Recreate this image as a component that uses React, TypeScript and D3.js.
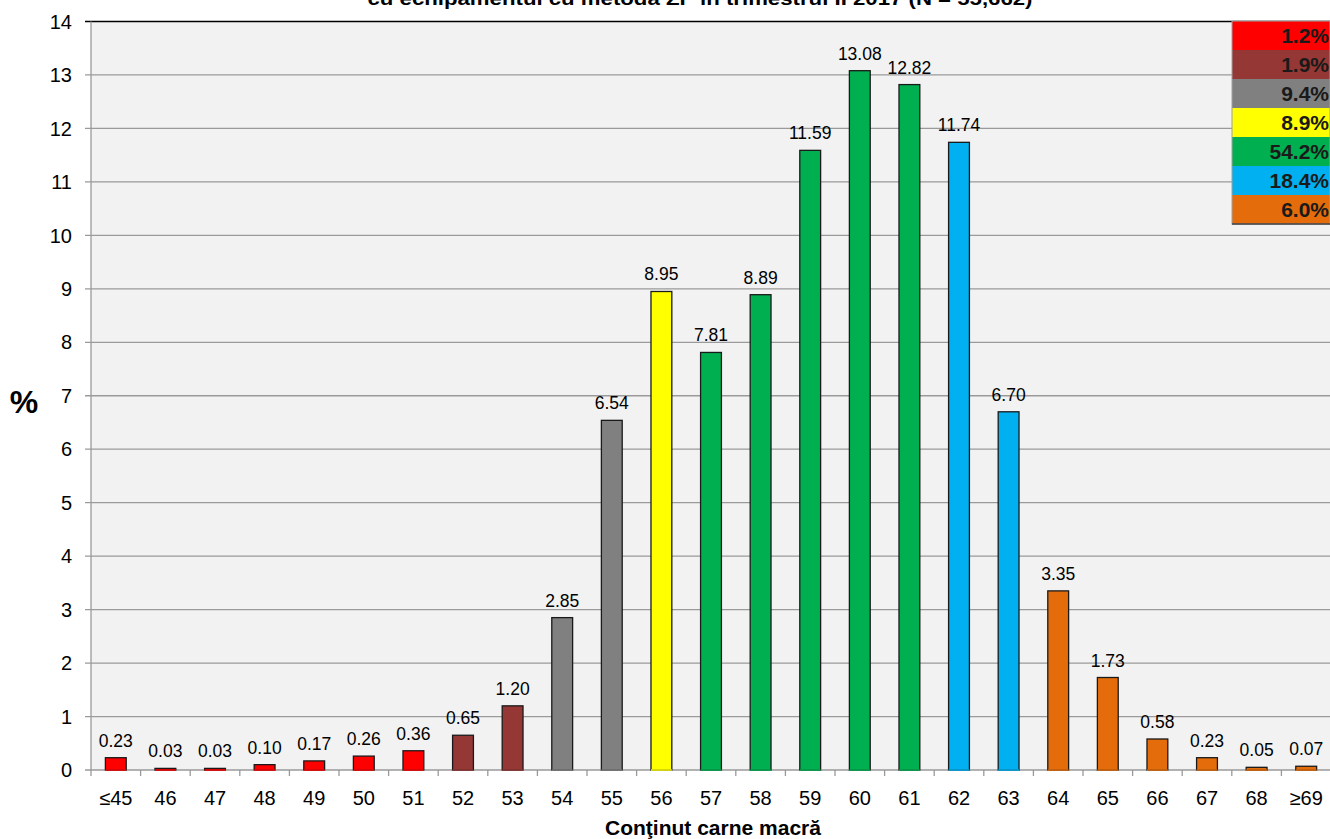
import React from 'react';
import * as d3 from 'd3';

// categorii (continut carne macra) si procente
const categories = ['≤45', '46', '47', '48', '49', '50', '51', '52', '53', '54', '55', '56', '57', '58', '59', '60', '61', '62', '63', '64', '65', '66', '67', '68', '≥69'];
const values = [0.23, 0.03, 0.03, 0.10, 0.17, 0.26, 0.36, 0.65, 1.20, 2.85, 6.54, 8.95, 7.81, 8.89, 11.59, 13.08, 12.82, 11.74, 6.70, 3.35, 1.73, 0.58, 0.23, 0.05, 0.07];
// clasa fiecarei categorii (index in legend)
const classOf = [0, 0, 0, 0, 0, 0, 0, 1, 1, 2, 2, 3, 4, 4, 4, 4, 4, 5, 5, 6, 6, 6, 6, 6, 6];
const legendLabels = ['1.2%', '1.9%', '9.4%', '8.9%', '54.2%', '18.4%', '6.0%'];
const classColors = ['#ff0000', '#953735', '#808080', '#ffff00', '#00b050', '#00b0f0', '#e46c0a'];
const yTicks = d3.range(0, 15);

const W = 1330;
const H = 839;
const FONT = 'Arial, "Liberation Sans", sans-serif';

export default function App() {
  const margin = { top: 21.5, left: 91, bottom: 770, right: 1331 };

  const x = d3
    .scaleBand<string>()
    .domain(categories)
    .range([margin.left, margin.right])
    .paddingInner(0.58)
    .paddingOuter(0.29);

  const y = d3.scaleLinear().domain([0, 14]).range([margin.bottom, margin.top]);

  const step = (margin.right - margin.left) / categories.length;
  const legendX = 1232;
  const legendTop = 21;
  const rowH = 29;

  return (
    <svg
      width={W}
      height={H}
      style={{ position: 'absolute', left: 0, top: 0, background: '#fff' }}
      fontFamily={FONT}
    >
      {/* titlu (taiat sus, ca in original) */}
      <text
        x={700}
        y={5}
        textAnchor="middle"
        fontSize={19}
        fontWeight="bold"
        fill="#000"
        textLength={665}
        lengthAdjust="spacingAndGlyphs"
      >
        cu echipamentul cu metoda ZP în trimestrul II 2017 (N = 55,662)
      </text>

      {/* zona grafic */}
      <rect
        x={margin.left}
        y={margin.top}
        width={margin.right - margin.left}
        height={margin.bottom - margin.top}
        fill="#f2f2f2"
      />

      {/* grid + axa y */}
      {yTicks.map(t => (
        <g key={t}>
          <line
            x1={margin.left - 6}
            x2={margin.right}
            y1={y(t)}
            y2={y(t)}
            stroke={t === 14 ? '#000' : '#9a9a9a'}
            strokeWidth={t === 14 ? 1.5 : 1.3}
          />
          <text
            x={72}
            y={y(t)}
            dy="0.36em"
            textAnchor="end"
            fontSize={20}
            fill="#000"
          >
            {t}
          </text>
        </g>
      ))}
      <line x1={margin.left} x2={margin.left} y1={margin.top} y2={margin.bottom} stroke="#9a9a9a" strokeWidth={1.3} />

      {/* tick-uri axa x */}
      {d3.range(categories.length + 1).map(i => (
        <line
          key={i}
          x1={margin.left + i * step}
          x2={margin.left + i * step}
          y1={margin.bottom}
          y2={margin.bottom + 6}
          stroke="#9a9a9a"
          strokeWidth={1.3}
        />
      ))}

      {/* bare */}
      {values.map((v, i) => {
        const bx = x(categories[i]) || 0;
        const top = y(v);
        return (
          <g key={i}>
            <rect
              x={bx}
              y={top}
              width={x.bandwidth()}
              height={margin.bottom - top}
              fill={classColors[classOf[i]]}
              stroke="#1a1a1a"
              strokeWidth={1.3}
            />
            <line
              x1={bx}
              x2={bx + x.bandwidth()}
              y1={margin.bottom}
              y2={margin.bottom}
              stroke={classColors[classOf[i]]}
              strokeWidth={1.5}
            />
            <text
              x={bx + x.bandwidth() / 2}
              y={top - 11}
              textAnchor="middle"
              fontSize={17.5}
              fill="#000"
            >
              {v.toFixed(2)}
            </text>
            <text
              x={bx + x.bandwidth() / 2}
              y={805}
              textAnchor="middle"
              fontSize={20}
              fill="#000"
            >
              {categories[i]}
            </text>
          </g>
        );
      })}

      {/* titluri axe */}
      <text x={24} y={413} textAnchor="middle" fontSize={32} fontWeight="bold" fill="#000">
        %
      </text>
      <text x={713} y={835} textAnchor="middle" fontSize={21} fontWeight="bold" fill="#000">
        Conţinut carne macră
      </text>

      {/* legenda */}
      <g>
        {legendLabels.map((l, i) => (
          <g key={i}>
            <rect
              x={legendX}
              y={legendTop + i * rowH}
              width={W - legendX}
              height={rowH}
              fill={classColors[i]}
            />
            <text
              x={1329}
              y={legendTop + i * rowH + rowH / 2}
              dy="0.36em"
              textAnchor="end"
              fontSize={21}
              fontWeight="bold"
              fill="#1a1a1a"
            >
              {l}
            </text>
          </g>
        ))}
        <rect
          x={legendX}
          y={legendTop}
          width={W - legendX}
          height={rowH * legendLabels.length}
          fill="none"
          stroke="#a0a0a0"
          strokeWidth={1}
        />
        <line
          x1={legendX}
          x2={W}
          y1={legendTop + rowH * legendLabels.length}
          y2={legendTop + rowH * legendLabels.length}
          stroke="#404040"
          strokeWidth={1.5}
        />
      </g>
    </svg>
  );
}
